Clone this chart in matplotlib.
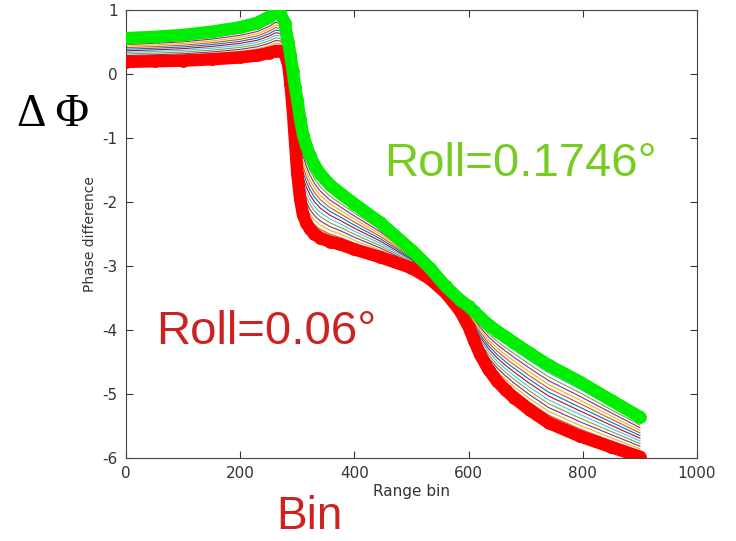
import numpy as np
import matplotlib
matplotlib.use("Agg")
import matplotlib.pyplot as plt

plt.rcParams['axes.unicode_minus'] = False

# range bins where the phase difference curves were sampled
bins = [0, 50, 100, 150, 200, 230, 250, 262, 270, 278, 284, 288, 292, 296, 300,
        305, 310, 316, 322, 330, 340, 357, 375, 400, 445, 500, 532, 560, 585,
        600, 610, 620, 635, 650, 665, 680, 707, 740, 795, 850, 900]

# phase difference at the smallest roll
phase_low = [0.19, 0.20, 0.21, 0.23, 0.26, 0.29, 0.33, 0.36, 0.36, 0.32, 0.15,
             -0.15, -0.55, -1.05, -1.55, -1.95, -2.20, -2.33, -2.42, -2.50,
             -2.56, -2.62, -2.66, -2.74, -2.86, -3.03, -3.20, -3.42, -3.70,
             -3.95, -4.17, -4.38, -4.62, -4.80, -4.94, -5.06, -5.25, -5.45,
             -5.66, -5.83, -5.98]

# phase difference at the largest roll
phase_high = [0.56, 0.58, 0.61, 0.66, 0.73, 0.80, 0.89, 0.97, 0.95, 0.80, 0.50,
              0.30, 0.05, -0.20, -0.40, -0.70, -0.95, -1.12, -1.27, -1.42,
              -1.56, -1.73, -1.86, -2.03, -2.32, -2.75, -3.03, -3.32, -3.53,
              -3.63, -3.71, -3.80, -3.92, -4.02, -4.11, -4.20, -4.36, -4.55,
              -4.81, -5.10, -5.36]

roll_low = 0.06
roll_high = 0.1746
# intermediate roll angles
rolls_mid = [0.0676, 0.0752, 0.0829, 0.0905, 0.0981, 0.1058, 0.1134, 0.1211,
             0.1287, 0.1363, 0.1440, 0.1516, 0.1593, 0.1669]

matlab_colors = ['#0072bd', '#d95319', '#edb120', '#7e2f8e',
                 '#77ac30', '#4dbeee', '#a2142f']

fig = plt.figure(figsize=(7.36, 5.41), dpi=100)
ax = fig.add_axes([0.1712, 0.1534, 0.947 - 0.1712, 0.9815 - 0.1534])

x = np.array(bins)
lo = np.array(phase_low)
hi = np.array(phase_high)

for i, r in enumerate(rolls_mid):
    w = (r - roll_low) / (roll_high - roll_low)
    ax.plot(x, lo + w * (hi - lo), color=matlab_colors[i % 7], lw=0.8, zorder=2)

# end curves: thick band with open circle markers
ax.plot(x, lo, color='#ff0000', lw=9, solid_capstyle='round',
        solid_joinstyle='round', zorder=3)
ax.plot(x, lo, 'o', color='#ff0000', mfc='none', ms=8, mew=1.2, zorder=3)
ax.plot(x, hi, color='#00ee00', lw=9, solid_capstyle='round',
        solid_joinstyle='round', zorder=4)
ax.plot(x, hi, 'o', color='#00ee00', mfc='none', ms=8, mew=1.2, zorder=4)

ax.set_xlim(0, 1000)
ax.set_ylim(-6, 1)
ax.set_xticks(range(0, 1001, 200))
ax.set_yticks(range(-6, 2))
ax.tick_params(direction='in', top=True, right=True, length=5, width=0.8,
               colors='#333333', labelsize=11, pad=6)
for sp in ax.spines.values():
    sp.set_color('#444444')
    sp.set_linewidth(0.8)

ax.set_xlabel("Range bin", fontsize=11, color='#333333', labelpad=2)
ax.set_ylabel("Phase difference", fontsize=10, color='#333333', labelpad=4)

fig.text(0.023, 0.768, "\u0394 \u03a6", family='Liberation Serif', fontsize=33,
         color='black')
fig.text(0.522, 0.674, "Roll=0.1746\u00b0", family='Liberation Sans',
         fontsize=34, color='#77cc22')
fig.text(0.212, 0.364, "Roll=0.06\u00b0", family='Liberation Sans',
         fontsize=34, color='#cc2222')
fig.text(0.376, 0.022, "Bin", family='Liberation Sans', fontsize=33,
         color='#cc2222')

fig.savefig("out.png", dpi=100)
